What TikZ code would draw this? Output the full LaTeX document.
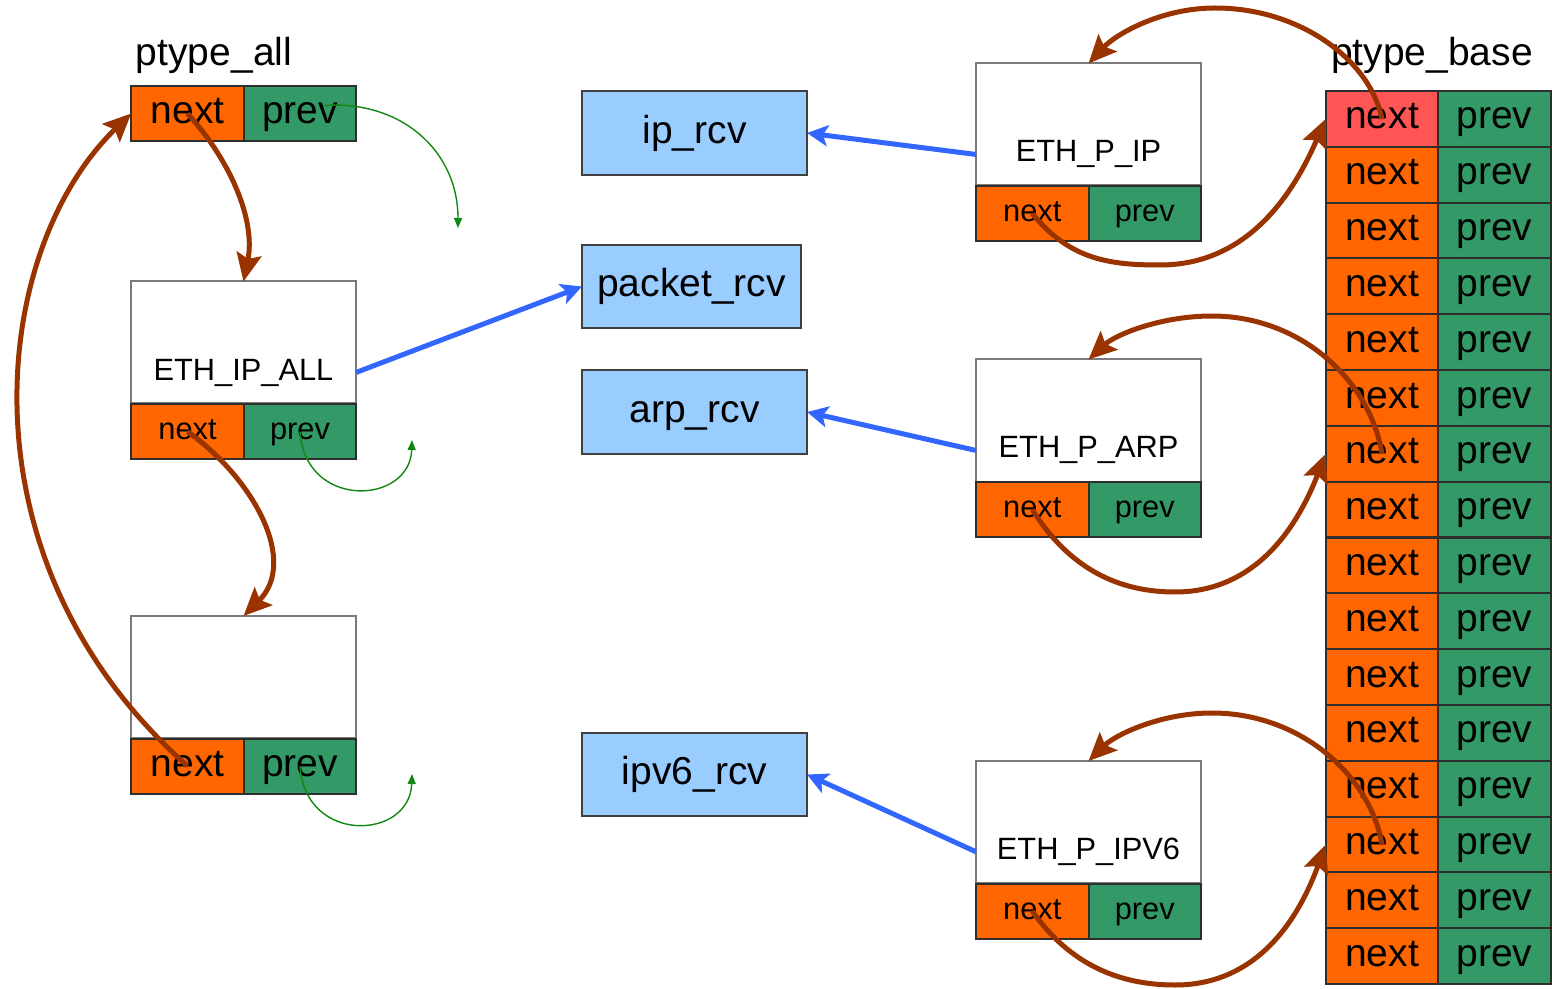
\documentclass[tikz,border=0pt]{standalone}
\usepackage{fontspec}
\setmainfont{Liberation Sans}
\usetikzlibrary{arrows.meta,calc}

\definecolor{nextorange}{HTML}{FF6600}
\definecolor{prevgreen}{HTML}{339966}
\definecolor{headred}{HTML}{FF5555}
\definecolor{rcvblue}{HTML}{99CCFF}
\definecolor{linkbrown}{HTML}{993300}
\definecolor{hookblue}{HTML}{3366FF}
\definecolor{backgreen}{HTML}{118811}
\definecolor{cellline}{HTML}{2E2E2E}
\definecolor{boxline}{HTML}{7A7A7A}
\definecolor{rcvline}{HTML}{404040}

\newcommand\bigtxt{\fontsize{19.5pt}{23pt}\selectfont}
\newcommand\smalltxt{\fontsize{15.4pt}{18pt}\selectfont}

\tikzset{
  fieldcell/.style={draw=cellline, line width=1pt, inner sep=0pt, outer sep=0pt,
    minimum width=56.25pt},
  bigcell/.style={fieldcell, minimum height=27.5pt, font=\bigtxt, text height=14pt, text depth=3.9pt},
  smallcell/.style={fieldcell, minimum height=27.5pt, font=\smalltxt, text height=11.1pt, text depth=3.1pt},
  basecell/.style={fieldcell, minimum height=27.9pt, font=\bigtxt, text height=14pt, text depth=3.9pt},
  nextfill/.style={fill=nextorange},
  prevfill/.style={fill=prevgreen},
  entrybox/.style={draw=boxline, fill=white, line width=1pt, inner sep=0pt, outer sep=0pt,
    minimum width=112.5pt, minimum height=61pt},
  entrylabel/.style={font=\smalltxt, inner sep=0pt, anchor=base},
  rcvbox/.style={draw=rcvline, fill=rcvblue, line width=1pt, inner sep=0pt, outer sep=0pt,
    minimum height=42pt, font=\bigtxt, text height=14pt, text depth=3.9pt},
  headlabel/.style={font=\bigtxt, inner sep=0pt, anchor=base},
  listlink/.style={draw=linkbrown, line width=2.5pt, -{Stealth[length=14pt,width=12.5pt,inset=2.5pt]}},
  hooklink/.style={draw=hookblue, line width=2.5pt, -{Stealth[length=10.5pt,width=10.5pt,inset=2.5pt]}},
  backlink/.style={draw=backgreen, line width=0.7pt, -{Triangle[length=5pt,width=4pt]}},
}

\begin{document}
\begin{tikzpicture}[x=0.5pt,y=-0.5pt]
\useasboundingbox (0,0) rectangle (1552,989);

% ---- ptype_all list head and its entries ----
\node[headlabel] (ptalltitle) at (214,66) {ptype\_all};
\node[bigcell,nextfill] (ptnext) at (187.5,113.5) {next};
\node[bigcell,prevfill] (ptprev) at (300,113.5) {prev};

\node[entrybox] (ethall) at (243.5,342.5) {};
\node[entrylabel] (ethalllbl) at ([yshift=11.75pt]ethall.south) {ETH\_IP\_ALL};
\node[smallcell,nextfill] (ethallnext) at (187.5,431.5) {next};
\node[smallcell,prevfill] (ethallprev) at (300,431.5) {prev};

\node[entrybox] (third) at (243.5,677) {};
\node[bigcell,nextfill] (thirdnext) at (187.5,766) {next};
\node[bigcell,prevfill] (thirdprev) at (300,766) {prev};

% ---- receive handlers ----
\node[rcvbox,minimum width=112.5pt] (iprcv) at (694.5,133) {ip\_rcv};
\node[rcvbox,minimum width=109.5pt,minimum height=41.5pt] (pktrcv) at (691.5,286.5) {packet\_rcv};
\node[rcvbox,minimum width=112.5pt] (arprcv) at (694.5,412) {arp\_rcv};
\node[rcvbox,minimum width=112.5pt,minimum height=41.5pt] (v6rcv) at (694.5,774.5) {ipv6\_rcv};

% ---- protocol entries hashed into ptype_base ----
\node[entrybox] (ethip) at (1088.5,124.5) {};
\node[entrylabel] (ethiplbl) at ([yshift=11.75pt]ethip.south) {ETH\_P\_IP};
\node[smallcell,nextfill] (ethipnext) at (1032.25,213.5) {next};
\node[smallcell,prevfill] (ethipprev) at (1144.75,213.5) {prev};

\node[entrybox] (etharp) at (1088.5,420.5) {};
\node[entrylabel] (etharplbl) at ([yshift=11.75pt]etharp.south) {ETH\_P\_ARP};
\node[smallcell,nextfill] (etharpnext) at (1032.25,509.5) {next};
\node[smallcell,prevfill] (etharpprev) at (1144.75,509.5) {prev};

\node[entrybox] (ethv6) at (1088.5,822) {};
\node[entrylabel] (ethv6lbl) at ([yshift=11.75pt]ethv6.south) {ETH\_P\_IPV6};
\node[smallcell,nextfill] (ethv6next) at (1032.25,911) {next};
\node[smallcell,prevfill] (ethv6prev) at (1144.75,911) {prev};

% ---- ptype_base hash table ----
\node[headlabel] (ptbasetitle) at (1432,66) {ptype\_base};
\node[basecell,fill=headred] (bn0) at (1382,118.9) {next};
\node[basecell,prevfill] (bp0) at (1494.5,118.9) {prev};
\foreach \i in {1,...,15} {
  \pgfmathsetmacro\yc{91+55.8125*(\i+0.5)}
  \node[basecell,nextfill] (bn\i) at (1382,\yc) {next};
  \node[basecell,prevfill] (bp\i) at (1494.5,\yc) {prev};
}

% ---- handler pointers ----
\draw[hooklink] (ethip.west |- ethiplbl.center) -- (iprcv.east);
\draw[hooklink] (ethall.east |- ethalllbl.center) -- (pktrcv.west);
\draw[hooklink] (etharp.west |- etharplbl.center) -- (arprcv.east);
\draw[hooklink] (ethv6.west |- ethv6lbl.center) -- (v6rcv.east);

% ---- prev pointers ----
\coordinate (g1) at (458,228);
\coordinate (g2) at (412,440);
\coordinate (g3) at (412,774);
\draw[backlink] ([xshift=12pt,yshift=4pt]ptprev.center) .. controls (400,100) and (458,150) .. (g1);
\draw[backlink] (ethallprev.center) .. controls (305,510) and (410,505) .. (g2);
\draw[backlink] (thirdprev.center) .. controls (305,845) and (410,840) .. (g3);

% ---- next pointers ----
\draw[listlink] (ptnext.center) .. controls (230,160) and (256,220) .. (ethall.north);
\draw[listlink] (ethallnext.center) .. controls (255,480) and (298,562) .. (third.north);
\draw[listlink] (thirdnext.center) .. controls (-45,560) and (-10,250) .. (ptnext.west);

\draw[listlink] (bn0.center) .. controls (1370,60) and (1300,8) .. (1215,8)
  .. controls (1160,8) and (1115,35) .. (ethip.north);
\draw[listlink] (ethipnext.center) .. controls (1070,260) and (1110,265) .. (1160,265)
  .. controls (1250,265) and (1295,190) .. (bn0.west);

\draw[listlink] (bn6.center) .. controls (1370,380) and (1300,316) .. (1212,316)
  .. controls (1160,316) and (1115,335) .. (etharp.north);
\draw[listlink] (etharpnext.center) .. controls (1070,570) and (1120,592) .. (1175,592)
  .. controls (1260,592) and (1300,520) .. (bn6.west);

\draw[listlink] (bn13.center) .. controls (1370,775) and (1300,713) .. (1212,713)
  .. controls (1160,713) and (1115,735) .. (ethv6.north);
\draw[listlink] (ethv6next.center) .. controls (1070,965) and (1120,985) .. (1175,985)
  .. controls (1260,985) and (1300,915) .. (bn13.west);
\end{tikzpicture}
\end{document}
